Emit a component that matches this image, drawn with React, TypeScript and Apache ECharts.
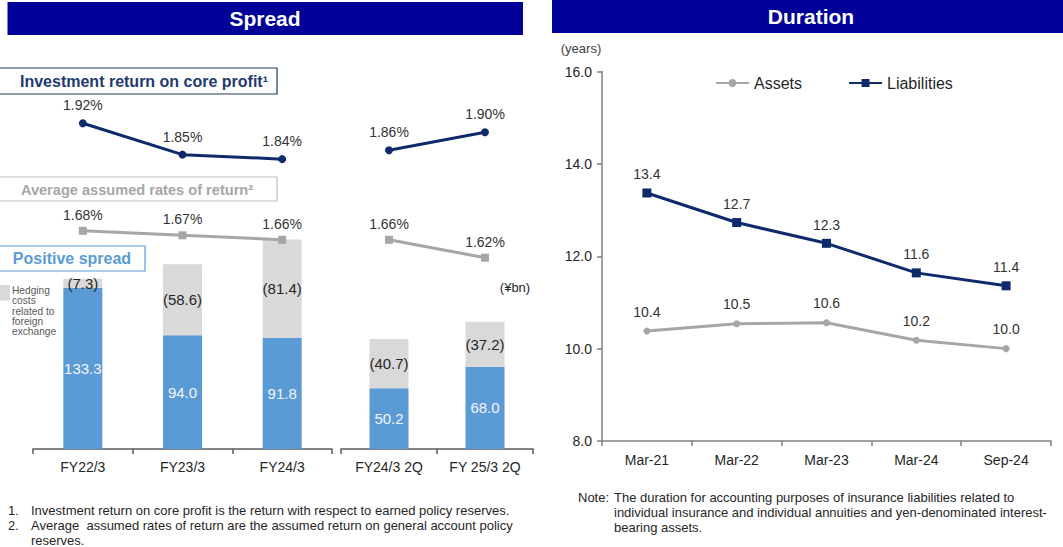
import React, { useEffect, useRef } from "react";
import * as echarts from "echarts";

const FONT = '"Liberation Sans", Arial, Helvetica, sans-serif';

// ---- Spread panel data ----
const spreadCategories = ["FY22/3", "FY23/3", "FY24/3", "FY24/3 2Q", "FY 25/3 2Q"];
const fullYearCount = 3; // first group = full years, second group = half years
const positiveSpread = [133.3, 94.0, 91.8, 50.2, 68.0];
const hedgingCosts = [7.3, 58.6, 81.4, 40.7, 37.2];
const investmentReturn = [1.92, 1.85, 1.84, 1.86, 1.9];
const assumedReturn = [1.68, 1.67, 1.66, 1.66, 1.62];

// ---- Duration panel data ----
const durationDates = ["Mar-21", "Mar-22", "Mar-23", "Mar-24", "Sep-24"];
const assetsDuration = [10.38, 10.54, 10.56, 10.18, 10.0];
const liabilitiesDuration = [13.37, 12.73, 12.28, 11.64, 11.36];
const durationAxis = { min: 8, max: 16, interval: 2 };

const NAVY = "#0F2A6B";
const GRAY_LINE = "#A6A6A6";
const BLUE = "#5B9BD5";
const GRAY_BAR = "#D9D9D9";
const TITLE_BG = "#000099";
const TXT = "#262626";

function txt(x: number, y: number, text: string, extra: any = {}) {
  return {
    type: "text",
    x,
    y,
    z: 10,
    style: {
      text,
      fontFamily: FONT,
      fontSize: 13,
      fill: TXT,
      textAlign: "left",
      textVerticalAlign: "middle",
      ...extra,
    },
  };
}

export default function App() {
  const ref = useRef<HTMLDivElement>(null);

  useEffect(() => {
    if (!ref.current) return;
    const chart = echarts.init(ref.current, undefined, { renderer: "svg" });

    const groups = [
      { start: 0, end: fullYearCount },
      { start: fullYearCount, end: spreadCategories.length },
    ];

    const xAxisBase = {
      type: "category",
      axisLine: { show: true, lineStyle: { color: "#595959", width: 1.5 } },
      axisTick: { show: true, length: 5, lineStyle: { color: "#595959", width: 1.5 } },
      axisLabel: { fontSize: 14, color: TXT, fontFamily: FONT, margin: 11 },
      splitLine: { show: false },
    };

    const xAxis: any[] = groups.map((g, i) => ({
      ...xAxisBase,
      gridIndex: i,
      data: spreadCategories.slice(g.start, g.end),
    }));
    xAxis.push({
      ...xAxisBase,
      gridIndex: 2,
      data: durationDates,
      axisLine: { show: true, lineStyle: { color: "#7F7F7F", width: 1.5 } },
      axisTick: { show: true, length: 5, lineStyle: { color: "#7F7F7F", width: 1.5 } },
      axisLabel: { fontSize: 14, color: TXT, fontFamily: FONT, margin: 12 },
    });

    const yAxis: any[] = [];
    groups.forEach((g, i) => {
      yAxis.push({ type: "value", gridIndex: i, min: 0, max: 288.4, show: false });
      yAxis.push({ type: "value", gridIndex: i, min: 1.193, max: 1.972, show: false });
    });
    yAxis.push({
      type: "value",
      gridIndex: 2,
      min: durationAxis.min,
      max: durationAxis.max,
      interval: durationAxis.interval,
      axisLine: { show: true, lineStyle: { color: "#7F7F7F", width: 1.5 } },
      axisTick: { show: true, length: 5, lineStyle: { color: "#7F7F7F", width: 1.5 } },
      splitLine: { show: false },
      axisLabel: {
        fontSize: 14,
        color: TXT,
        fontFamily: FONT,
        margin: 10,
        formatter: (v: number) => v.toFixed(1),
      },
    });

    const series: any[] = [];
    groups.forEach((g, i) => {
      series.push({
        name: "Positive spread " + i,
        type: "bar",
        xAxisIndex: i,
        yAxisIndex: i * 2,
        stack: "s" + i,
        barWidth: 39,
        data: positiveSpread.slice(g.start, g.end),
        itemStyle: { color: BLUE },
        label: {
          show: true,
          position: "inside",
          fontSize: 15,
          fontFamily: FONT,
          color: "#F3F7FC",
          formatter: (p: any) => Number(p.value).toFixed(1),
        },
        z: 2,
      });
      series.push({
        name: "Hedging " + i,
        type: "bar",
        xAxisIndex: i,
        yAxisIndex: i * 2,
        stack: "s" + i,
        barWidth: 39,
        data: hedgingCosts.slice(g.start, g.end),
        itemStyle: { color: GRAY_BAR },
        label: {
          show: true,
          position: "inside",
          fontSize: 15,
          fontFamily: FONT,
          color: TXT,
          formatter: (p: any) => "(" + Number(p.value).toFixed(1) + ")",
        },
        z: 2,
      });
      series.push({
        name: "Investment return " + i,
        type: "line",
        xAxisIndex: i,
        yAxisIndex: i * 2 + 1,
        data: investmentReturn.slice(g.start, g.end),
        symbol: "circle",
        symbolSize: 8,
        lineStyle: { color: NAVY, width: 3 },
        itemStyle: { color: NAVY },
        label: {
          show: true,
          position: "top",
          distance: 7,
          fontSize: 14,
          fontFamily: FONT,
          color: "#333333",
          formatter: (p: any) => Number(p.value).toFixed(2) + "%",
        },
        z: 5,
      });
      series.push({
        name: "Assumed return " + i,
        type: "line",
        xAxisIndex: i,
        yAxisIndex: i * 2 + 1,
        data: assumedReturn.slice(g.start, g.end),
        symbol: "rect",
        symbolSize: 8,
        lineStyle: { color: GRAY_LINE, width: 3 },
        itemStyle: { color: GRAY_LINE },
        label: {
          show: true,
          position: "top",
          distance: 5,
          fontSize: 14,
          fontFamily: FONT,
          color: "#333333",
          formatter: (p: any) => Number(p.value).toFixed(2) + "%",
        },
        z: 5,
      });
    });

    series.push({
      name: "Assets",
      type: "line",
      xAxisIndex: 2,
      yAxisIndex: 4,
      data: assetsDuration,
      symbol: "circle",
      symbolSize: 7,
      lineStyle: { color: GRAY_LINE, width: 3 },
      itemStyle: { color: GRAY_LINE },
      label: {
        show: true,
        position: "top",
        distance: 9,
        fontSize: 14,
        fontFamily: FONT,
        color: "#333333",
        formatter: (p: any) => Number(p.value).toFixed(1),
      },
    });
    series.push({
      name: "Liabilities",
      type: "line",
      xAxisIndex: 2,
      yAxisIndex: 4,
      data: liabilitiesDuration,
      symbol: "rect",
      symbolSize: 9,
      lineStyle: { color: NAVY, width: 3 },
      itemStyle: { color: NAVY },
      label: {
        show: true,
        position: "top",
        distance: 7,
        fontSize: 14,
        fontFamily: FONT,
        color: "#333333",
        formatter: (p: any) => Number(p.value).toFixed(1),
      },
    });

    const graphic: any[] = [
      // Title bars
      { type: "rect", shape: { x: 7.5, y: 2, width: 515.5, height: 33 }, style: { fill: TITLE_BG }, z: 5 },
      txt(265, 18.5, "Spread", { fontSize: 21, fontWeight: "bold", fill: "#FFFFFF", textAlign: "center" }),
      { type: "rect", shape: { x: 552, y: 0, width: 511, height: 33 }, style: { fill: TITLE_BG }, z: 5 },
      txt(811, 16.5, "Duration", { fontSize: 21, fontWeight: "bold", fill: "#FFFFFF", textAlign: "center" }),
      // Box labels
      { type: "rect", shape: { x: -2, y: 68, width: 279, height: 26 }, style: { fill: "#FFFFFF", stroke: "#1F3864", lineWidth: 1.2 }, z: 5 },
      txt(144, 81, "Investment return on core profit\u00B9", { fontSize: 16, fontWeight: "bold", fill: "#1F3A6E", textAlign: "center" }),
      { type: "rect", shape: { x: -2, y: 177, width: 279, height: 24 }, style: { fill: "#FFFFFF", stroke: "#BFBFBF", lineWidth: 1.2 }, z: 5 },
      txt(137, 189.5, "Average assumed rates of return\u00B2", { fontSize: 14.6, fontWeight: "bold", fill: "#A6A6A6", textAlign: "center" }),
      { type: "rect", shape: { x: -2, y: 246, width: 147, height: 25 }, style: { fill: "#FFFFFF", stroke: BLUE, lineWidth: 1.2 }, z: 5 },
      txt(72, 258.5, "Positive spread", { fontSize: 16, fontWeight: "bold", fill: BLUE, textAlign: "center" }),
      // Hedging legend
      { type: "rect", shape: { x: -5, y: 285, width: 15, height: 15.5 }, style: { fill: GRAY_BAR }, z: 5 },
      txt(12, 285.5, "Hedging\ncosts\nrelated to\nforeign\nexchange", {
        fontSize: 10.2,
        lineHeight: 10.3,
        fill: "#595959",
        textVerticalAlign: "top",
      }),
      txt(515, 287, "(\u00A5bn)", { fontSize: 13, textAlign: "center" }),
      txt(581, 48, "(years)", { fontSize: 13, textAlign: "center", fill: "#404040" }),
      // Footnotes left
      txt(8, 510, "1."),
      txt(31, 510, "Investment return on core profit is the return with respect to earned policy reserves."),
      txt(8, 525.5, "2."),
      txt(31, 525.5, "Average  assumed rates of return are the assumed return on general account policy"),
      txt(31, 540, "reserves."),
      // Note right
      txt(578, 497, "Note:"),
      txt(614, 497, "The duration for accounting purposes of insurance liabilities related to"),
      txt(614, 512, "individual insurance and individual annuities and yen-denominated interest-"),
      txt(614, 527, "bearing assets."),
    ];

    chart.setOption({
      animation: false,
      textStyle: { fontFamily: FONT },
      legend: {
        data: ["Assets", "Liabilities"],
        left: 710,
        top: 70,
        itemWidth: 33,
        itemHeight: 10,
        itemGap: 46,
        selectedMode: false,
        textStyle: { fontSize: 16, color: TXT, fontFamily: FONT },
      },
      grid: [
        { left: 33, top: 100, width: 299, height: 349 },
        { left: 341, top: 100, width: 192, height: 349 },
        { left: 602, top: 71.5, width: 449, height: 369.5 },
      ],
      xAxis,
      yAxis,
      series,
      graphic,
    });

    return () => chart.dispose();
  }, []);

  return (
    <div
      ref={ref}
      style={{ position: "fixed", left: 0, top: 0, width: 1063, height: 547, background: "#FFFFFF" }}
    />
  );
}
